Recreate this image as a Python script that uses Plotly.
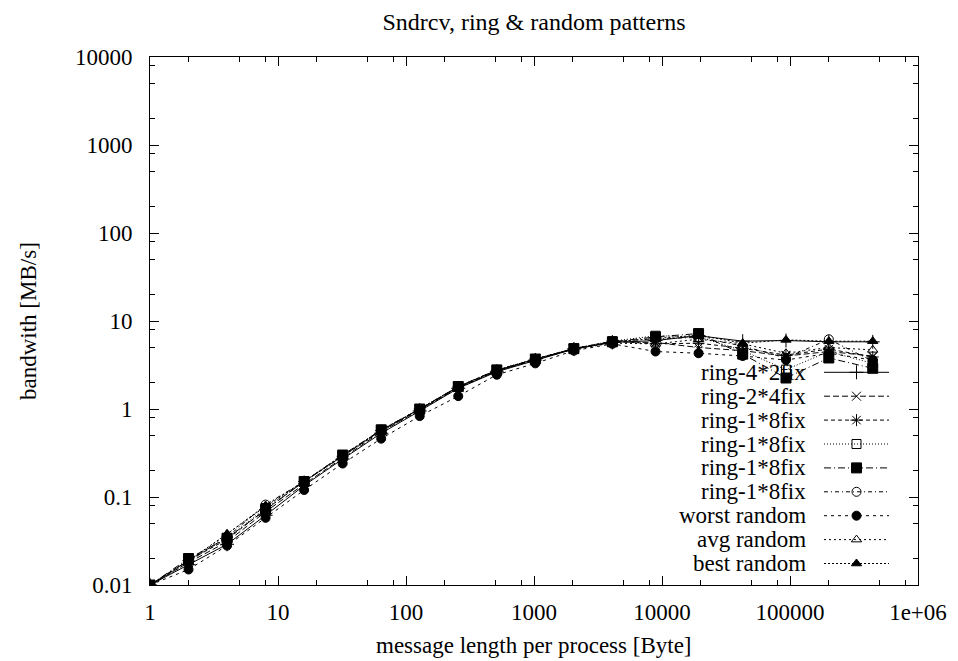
import plotly.graph_objects as go

# ---------------- data ----------------
msg_len = [1, 2, 4, 8, 16, 32, 64, 128, 256, 512, 1024, 2048, 4096,
           8900, 19300, 42700, 93000, 201000, 443000]

series_names = ["ring-4*2fix", "ring-2*4fix", "ring-1*8fix", "ring-1*8fix",
                "ring-1*8fix", "ring-1*8fix", "worst random", "avg random", "best random"]

ring_4x2 = [0.01, 0.017, 0.029, 0.062, 0.135, 0.27, 0.53, 0.95, 1.72, 2.65, 3.6, 4.8, 5.7,
            6.0, 6.8, 5.9, 6.0, 5.8, 5.8]
ring_2x4 = [0.01, 0.018, 0.031, 0.068, 0.14, 0.28, 0.55, 0.98, 1.75, 2.7, 3.65, 4.8, 5.8,
            5.7, 5.0, 4.6, 4.0, 4.5, 4.0]
ring_1x8_a = [0.01, 0.019, 0.033, 0.072, 0.15, 0.29, 0.57, 1.0, 1.78, 2.75, 3.7, 4.85, 5.9,
              5.5, 5.6, 4.9, 4.1, 4.8, 3.9]
ring_1x8_b = [0.01, 0.019, 0.034, 0.075, 0.15, 0.29, 0.58, 1.0, 1.8, 2.78, 3.7, 4.9, 5.9,
              6.8, 6.6, 4.6, 2.8, 4.5, 3.3]
ring_1x8_c = [0.01, 0.020, 0.034, 0.072, 0.15, 0.30, 0.58, 1.0, 1.8, 2.78, 3.7, 4.85, 5.8,
              6.6, 7.2, 4.2, 2.25, 3.8, 2.9]
ring_1x8_d = [0.01, 0.019, 0.035, 0.082, 0.15, 0.29, 0.57, 1.0, 1.78, 2.75, 3.65, 4.85, 5.8,
              6.3, 6.5, 5.2, 3.8, 6.2, 3.5]
worst_random = [0.01, 0.015, 0.028, 0.058, 0.12, 0.24, 0.46, 0.83, 1.4, 2.45, 3.3, 4.6, 5.5,
                4.5, 4.3, 4.0, 3.6, 4.3, 3.6]
avg_random = [0.01, 0.018, 0.038, 0.078, 0.15, 0.29, 0.56, 0.97, 1.72, 2.7, 3.6, 4.8, 5.6,
              5.5, 6.2, 5.5, 4.3, 5.0, 4.7]
best_random = [0.01, 0.019, 0.038, 0.080, 0.15, 0.30, 0.57, 1.0, 1.8, 2.75, 3.7, 4.85, 5.8,
               6.3, 6.9, 5.6, 6.1, 5.9, 5.9]

all_series = [ring_4x2, ring_2x4, ring_1x8_a, ring_1x8_b, ring_1x8_c, ring_1x8_d,
              worst_random, avg_random, best_random]

x_tick_vals = [1, 10, 100, 1000, 10000, 100000, 1000000]
x_tick_text = ["1", "10", "100", "1000", "10000", "100000", "1e+06"]
y_tick_vals = [0.01, 0.1, 1, 10, 100, 1000, 10000]
y_tick_text = ["0.01", "0.1", "1", "10", "100", "1000", "10000"]

# ---------------- styles ----------------
dashes = ["solid", "6px,3px", "4px,3px", "1px,2px", "7px,3px,1px,3px",
          "4px,3px,1px,3px", "3px,4px", "2px,3px", "2px,2px"]
symbols = ["cross-thin-open", "x-thin-open", "asterisk-open", "square-open", "square",
           "circle-open", "circle", "triangle-up-open", "triangle-up"]
sizes = [10, 9, 10, 9, 10, 9, 9, 9, 9]

FONT = "Liberation Serif"
W, H = 958, 661
L, R, T, B = 150, 40, 57, 76
plot_w = W - L - R
plot_h = H - T - B

fig = go.Figure()

for name, vals, dsh, sym, sz in zip(series_names, all_series, dashes, symbols, sizes):
    fig.add_trace(go.Scatter(
        x=msg_len, y=vals, mode="lines+markers", name=name, showlegend=False,
        line=dict(color="black", width=1, dash=dsh),
        marker=dict(symbol=sym, size=sz, color="black",
                    line=dict(color="black", width=1)),
    ))

# ---------------- custom gnuplot-style legend ----------------
leg_text_right = 808
leg_line_x0, leg_line_x1 = 824, 889
leg_row0 = 372.3
leg_row_step = 23.9


def px_to_paper_x(px):
    return (px - L) / plot_w


def py_to_paper_y(py):
    return (T + plot_h - py) / plot_h


for i, (name, dsh, sym, sz) in enumerate(zip(series_names, dashes, symbols, sizes)):
    yy = py_to_paper_y(leg_row0 + i * leg_row_step)
    x0 = px_to_paper_x(leg_line_x0)
    x1 = px_to_paper_x(leg_line_x1)
    fig.add_trace(go.Scatter(
        x=[x0, x1], y=[yy, yy], mode="lines",
        xaxis="x2", yaxis="y2", showlegend=False, hoverinfo="skip",
        line=dict(color="black", width=1, dash=dsh),
    ))
    fig.add_trace(go.Scatter(
        x=[(x0 + x1) / 2], y=[yy], mode="markers",
        xaxis="x2", yaxis="y2", showlegend=False, hoverinfo="skip",
        marker=dict(symbol=sym, size=sz, color="black",
                    line=dict(color="black", width=1)),
    ))
    fig.add_annotation(
        x=px_to_paper_x(leg_text_right), y=yy, xref="paper", yref="paper",
        text=name, showarrow=False, xanchor="right", yanchor="middle",
        font=dict(family=FONT, size=23, color="black"),
    )

# axis titles
fig.add_annotation(
    x=0.5, y=py_to_paper_y(645), xref="paper", yref="paper",
    text="message length per process [Byte]", showarrow=False,
    xanchor="center", yanchor="middle", font=dict(family=FONT, size=23, color="black"))
fig.add_annotation(
    x=px_to_paper_x(28), y=0.5, xref="paper", yref="paper",
    text="bandwith [MB/s]", showarrow=False, textangle=-90,
    xanchor="center", yanchor="middle", font=dict(family=FONT, size=23, color="black"))

minor_x = [m * 10 ** k for k in range(0, 6) for m in (2, 5, 8)]
minor_y = [m * 10 ** k for k in range(-2, 4) for m in (2, 5, 8)]

fig.update_layout(
    width=W, height=H,
    margin=dict(l=L, r=R, t=T, b=B, autoexpand=False),
    paper_bgcolor="white", plot_bgcolor="white",
    font=dict(family=FONT, size=23, color="black"),
    title=dict(text="Sndrcv, ring & random patterns", x=0.5, xref="paper",
               y=1 - 22 / H, yref="container", yanchor="middle", xanchor="center",
               font=dict(family=FONT, size=24, color="black")),
    showlegend=False,
    xaxis=dict(type="log", range=[0, 6], showgrid=False, zeroline=False,
               showline=True, linecolor="black", linewidth=1, mirror="allticks",
               ticks="inside", ticklen=9, tickcolor="black", tickwidth=1,
               tickmode="array", tickvals=x_tick_vals, ticktext=x_tick_text,
               ticklabelstandoff=6,
               minor=dict(tickmode="array", tickvals=minor_x, ticks="inside",
                          ticklen=5, tickcolor="black", tickwidth=1, showgrid=False)),
    yaxis=dict(type="log", range=[-2, 4], showgrid=False, zeroline=False,
               showline=True, linecolor="black", linewidth=1, mirror="allticks",
               ticks="inside", ticklen=9, tickcolor="black", tickwidth=1,
               tickmode="array", tickvals=y_tick_vals, ticktext=y_tick_text,
               ticklabelstandoff=12,
               minor=dict(tickmode="array", tickvals=minor_y, ticks="inside",
                          ticklen=5, tickcolor="black", tickwidth=1, showgrid=False)),
    xaxis2=dict(overlaying="x", range=[0, 1], visible=False, fixedrange=True),
    yaxis2=dict(overlaying="y", range=[0, 1], visible=False, fixedrange=True),
)

fig.write_html("out.html", config={"displayModeBar": False},
               post_script="document.body.style.margin='0';document.body.style.padding='0';")
